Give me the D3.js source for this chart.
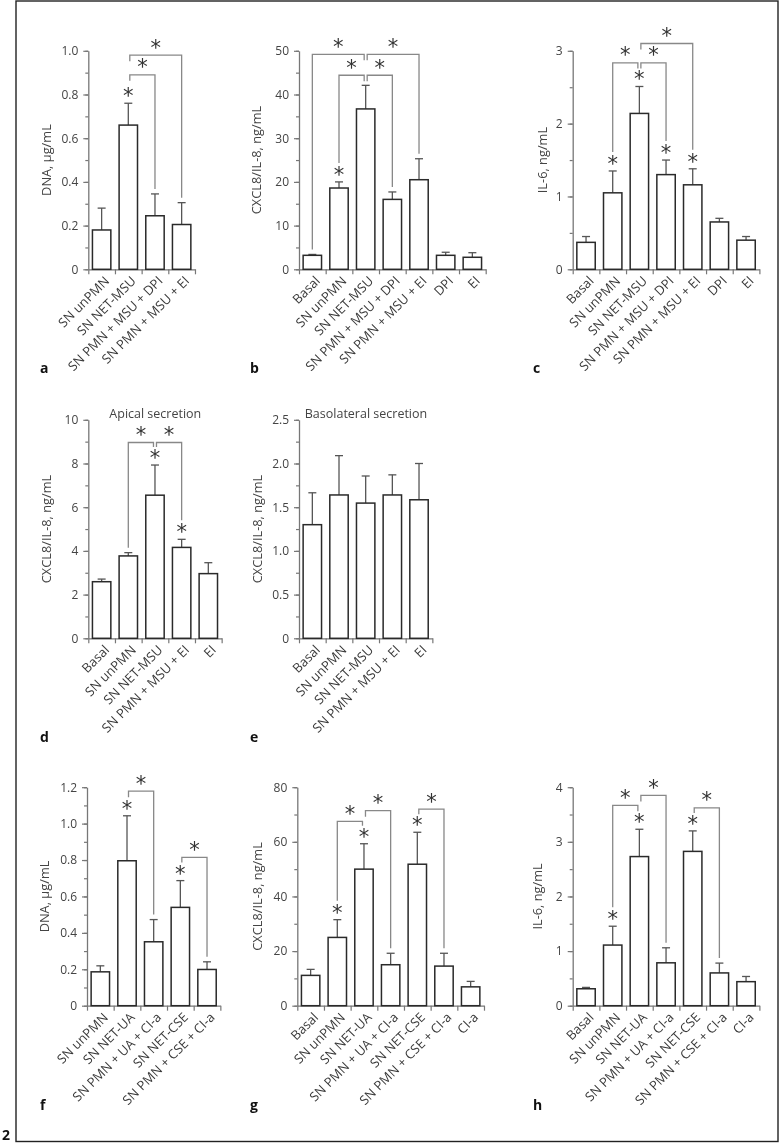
<!DOCTYPE html>
<html>
<head>
<meta charset="utf-8">
<script src="https://cdn.jsdelivr.net/npm/d3@7"></script>
<style>
  body { margin: 0; background: #fff; }
  svg { display: block; will-change: transform; }
  text { font-family: "Open Sans", sans-serif; fill: #444; }
</style>
</head>
<body>
<svg id="fig" width="780" height="1143"></svg>
<script>
// ---- data ----
// a: DNA release
const catsA = ["SN unPMN", "SN NET-MSU", "SN PMN + MSU + DPI", "SN PMN + MSU + EI"];
const valsA = [0.18, 0.66, 0.245, 0.205];
const sdA = [0.10, 0.10, 0.10, 0.10];
const starsA = [1];
const bracketsA = [[1, 2, 0.89], [1, 3, 0.98]];

// b: CXCL8/IL-8
const catsB = ["Basal", "SN unPMN", "SN NET-MSU", "SN PMN + MSU + DPI", "SN PMN + MSU + EI", "DPI", "EI"];
const valsB = [3.2, 18.6, 36.7, 16.0, 20.5, 3.2, 2.75];
const sdB = [0.2, 1.4, 5.4, 1.7, 4.8, 0.7, 1.05];
const starsB = [1];
const bracketsB = [[0, 2, 49.2], [1, 2, 44.4], [2, 3, 44.4], [2, 4, 49.2]];

// c: IL-6
const catsC = catsB;
const valsC = [0.37, 1.05, 2.14, 1.30, 1.16, 0.65, 0.40];
const sdC = [0.08, 0.30, 0.37, 0.20, 0.22, 0.05, 0.05];
const starsC = [1, 2, 3, 4];
const bracketsC = [[1, 2, 2.835], [2, 3, 2.835], [2, 4, 3.10]];

// d: apical CXCL8/IL-8
const catsD = ["Basal", "SN unPMN", "SN NET-MSU", "SN PMN + MSU + EI", "EI"];
const valsD = [2.59, 3.77, 6.55, 4.16, 2.96];
const sdD = [0.12, 0.15, 1.38, 0.37, 0.50];
const starsD = [2, 3];
const bracketsD = [[1, 2, 8.96], [2, 3, 8.96]];

// e: basolateral CXCL8/IL-8
const catsE = catsD;
const valsE = [1.30, 1.64, 1.547, 1.64, 1.585];
const sdE = [0.365, 0.45, 0.31, 0.23, 0.415];

// f: DNA, UA / CSE
const catsF = ["SN unPMN", "SN NET-UA", "SN PMN + UA + CI-a", "SN NET-CSE", "SN PMN + CSE + CI-a"];
const valsF = [0.186, 0.796, 0.351, 0.54, 0.199];
const sdF = [0.033, 0.247, 0.122, 0.147, 0.042];
const starsF = [1, 3];
const bracketsF = [[1, 2, 1.178], [3, 4, 0.815]];

// g: CXCL8/IL-8, UA / CSE
const catsG = ["Basal", "SN unPMN", "SN NET-UA", "SN PMN + UA + CI-a", "SN NET-CSE", "SN PMN + CSE + CI-a", "CI-a"];
const valsG = [11.1, 25.0, 50.0, 15.0, 51.8, 14.5, 6.9];
const sdG = [2.2, 6.5, 9.3, 4.2, 11.7, 4.7, 2.0];
const starsG = [1, 2, 4];
const bracketsG = [[1, 2, 67.5], [2, 3, 71.4], [4, 5, 72.0]];

// h: IL-6, UA / CSE
const catsH = catsG;
const valsH = [0.31, 1.11, 2.73, 0.785, 2.825, 0.60, 0.44];
const sdH = [0.025, 0.345, 0.50, 0.275, 0.375, 0.18, 0.095];
const starsH = [1, 2, 4];
const bracketsH = [[1, 2, 3.666], [2, 3, 3.85], [4, 5, 3.62]];

// y axis ranges: [max, major step, minor step]
const axisA = [1.0, 0.2, 0.1];
const axisB = [50, 10, 5];
const axisC = [3, 1, 0.5];
const axisD = [10, 2, 1];
const axisE = [2.5, 0.5, 0.25];
const axisF = [1.2, 0.2, 0.1];
const axisG = [80, 20, 10];
const axisH = [4, 1, 0.5];

const fmt1 = d => d === 0 ? "0" : d3.format(".1f")(d);
const fmt0 = d3.format("d");

// ---- layout ----
const panels = [
  { cats: catsA, vals: valsA, sd: sdA, stars: starsA, brackets: bracketsA, axis: axisA, fmt: fmt1,
    ylab: "DNA, µg/mL", letter: "a", ox: 88.3, oy: 269.3, labX: -41.6, letX: 40 },
  { cats: catsB, vals: valsB, sd: sdB, stars: starsB, brackets: bracketsB, axis: axisB, fmt: fmt0,
    ylab: "CXCL8/IL-8, ng/mL", letter: "b", ox: 299, oy: 269.3, labX: -42, letX: 250 },
  { cats: catsC, vals: valsC, sd: sdC, stars: starsC, brackets: bracketsC, axis: axisC, fmt: fmt0,
    ylab: "IL-6, ng/mL", letter: "c", ox: 572.7, oy: 269.3, labX: -30, letX: 533 },
  { cats: catsD, vals: valsD, sd: sdD, stars: starsD, brackets: bracketsD, axis: axisD, fmt: fmt0,
    ylab: "CXCL8/IL-8, ng/mL", letter: "d", ox: 88.3, oy: 638.3, labX: -41.6, letX: 40,
    title: "Apical secretion", titleX: 67 },
  { cats: catsE, vals: valsE, sd: sdE, stars: [], brackets: [], axis: axisE, fmt: fmt1,
    ylab: "CXCL8/IL-8, ng/mL", letter: "e", ox: 299, oy: 638.3, labX: -41.5, letX: 250,
    title: "Basolateral secretion", titleX: 67 },
  { cats: catsF, vals: valsF, sd: sdF, stars: starsF, brackets: bracketsF, axis: axisF, fmt: fmt1,
    ylab: "DNA, µg/mL", letter: "f", ox: 87, oy: 1005.7, labX: -42, letX: 40 },
  { cats: catsG, vals: valsG, sd: sdG, stars: starsG, brackets: bracketsG, axis: axisG, fmt: fmt0,
    ylab: "CXCL8/IL-8, ng/mL", letter: "g", ox: 297.3, oy: 1005.7, labX: -40, letX: 250 },
  { cats: catsH, vals: valsH, sd: sdH, stars: starsH, brackets: bracketsH, axis: axisH, fmt: fmt0,
    ylab: "IL-6, ng/mL", letter: "h", ox: 572.7, oy: 1005.7, labX: -35, letX: 533 }
];

const plotH = 218.5;
const step = 26.67;
const svg = d3.select("#fig");

// frame
svg.append("rect")
  .attr("x", 16).attr("y", 1).attr("width", 762).attr("height", 1140.5)
  .attr("fill", "none").attr("stroke", "#222").attr("stroke-width", 1.4);
svg.append("text").attr("x", 2).attr("y", 1140)
  .style("font-weight", "bold").style("font-size", "14px").style("fill", "#111").text("2");

function star(g, x, yc) {
  g.append("text").attr("class", "star")
    .attr("x", x).attr("y", yc + 9)
    .attr("text-anchor", "middle")
    .style("font-family", "DejaVu Sans").style("font-size", "21px").style("fill", "#333")
    .text("*");
}

panels.forEach(p => {
  const n = p.cats.length;
  const W = n * step;
  const g = svg.append("g").attr("transform", `translate(${p.ox},${p.oy - plotH})`);

  const x = d3.scaleBand().domain(p.cats).range([0, W]).paddingInner(0.31).paddingOuter(0.155);
  const xe = d3.scaleLinear().domain([0, n]).range([0, W]);
  const y = d3.scaleLinear().domain([0, p.axis[0]]).range([plotH, 0]);

  const major = d3.range(0, p.axis[0] + p.axis[1] / 2, p.axis[1]);
  const minor = d3.range(0, p.axis[0] + p.axis[2] / 2, p.axis[2]);

  // minor ticks
  g.append("g").call(d3.axisLeft(y).tickValues(minor).tickSize(3).tickSizeOuter(0).tickFormat(""))
    .call(a => a.select(".domain").remove())
    .selectAll("line").attr("stroke", "#777").attr("stroke-width", 1.2);
  // major ticks + labels
  const ya = g.append("g").call(d3.axisLeft(y).tickValues(major).tickSize(5).tickSizeOuter(0).tickPadding(5).tickFormat(p.fmt));
  ya.select(".domain").attr("stroke", "#777").attr("stroke-width", 1.3);
  ya.selectAll("line").attr("stroke", "#777").attr("stroke-width", 1.2);
  ya.selectAll("text").style("font-size", "12px").style("fill", "#444").style("font-family", "Open Sans");

  // x axis: separators at band edges
  const xa = g.append("g").attr("transform", `translate(0,${plotH})`)
    .call(d3.axisBottom(xe).tickValues(d3.range(n + 1)).tickSize(5).tickSizeOuter(0).tickFormat(""));
  xa.select(".domain").attr("stroke", "#777").attr("stroke-width", 1.3);
  xa.selectAll("line").attr("stroke", "#777").attr("stroke-width", 1.2);

  // category labels
  const xl = g.append("g").attr("transform", `translate(0,${plotH})`)
    .call(d3.axisBottom(x).tickSize(0).tickSizeOuter(0));
  xl.select(".domain").remove();
  xl.selectAll("text")
    .attr("x", 0).attr("y", 0).attr("dy", 0)
    .attr("text-anchor", "end")
    .attr("transform", "translate(8.5,12.5) rotate(-45)")
    .style("font-size", "13px").style("fill", "#3a3a3a").style("font-family", "Open Sans");

  // error bars
  const cx = i => x(p.cats[i]) + x.bandwidth() / 2;
  const errTop = i => y(p.vals[i] + p.sd[i]);
  const eb = g.append("g").attr("stroke", "#555").attr("stroke-width", 1.3);
  eb.selectAll("line.v").data(p.vals).join("line").attr("class", "v")
    .attr("x1", (d, i) => cx(i)).attr("x2", (d, i) => cx(i))
    .attr("y1", d => y(d)).attr("y2", (d, i) => errTop(i));
  eb.selectAll("line.c").data(p.vals).join("line").attr("class", "c")
    .attr("x1", (d, i) => cx(i) - 4).attr("x2", (d, i) => cx(i) + 4)
    .attr("y1", (d, i) => errTop(i)).attr("y2", (d, i) => errTop(i));

  // bars
  g.append("g").selectAll("rect").data(p.vals).join("rect")
    .attr("x", (d, i) => x(p.cats[i]))
    .attr("y", d => y(d))
    .attr("width", x.bandwidth())
    .attr("height", d => plotH - y(d))
    .attr("fill", "#fff").attr("stroke", "#2a2a2a").attr("stroke-width", 1.5);

  // stars over bars
  const topOf = i => p.stars.includes(i) ? errTop(i) - 9 - 5 : errTop(i);
  p.stars.forEach(i => star(g, cx(i), errTop(i) - 9));

  // significance brackets
  p.brackets.forEach(([i, j, lev]) => {
    const hub = (p.vals[i] + p.sd[i]) >= (p.vals[j] + p.sd[j]) ? i : j;
    const other = hub === i ? j : i;
    const ly = y(lev);
    const hx = cx(hub) + (other > hub ? 1.5 : -1.5);
    const ox = cx(other);
    const hubLeg = Math.min(6, topOf(hub) - 4 - ly);
    const path = d3.path();
    path.moveTo(hx, ly + hubLeg);
    path.lineTo(hx, ly);
    path.lineTo(ox, ly);
    path.lineTo(ox, topOf(other) - 5);
    g.append("path").attr("d", path.toString())
      .attr("fill", "none").attr("stroke", "#888").attr("stroke-width", 1.3);
    star(g, (hx + ox) / 2, ly - 9.5);
  });

  // y label
  g.append("text")
    .attr("transform", `translate(${p.labX},${plotH / 2}) rotate(-90)`)
    .attr("text-anchor", "middle").attr("dy", "0.35em")
    .style("font-size", "12.8px").text(p.ylab);

  if (p.title) {
    g.append("text").attr("x", p.titleX).attr("y", -1.5)
      .attr("text-anchor", "middle").style("font-size", "12.5px").text(p.title);
  }

  // panel letter
  svg.append("text").attr("x", p.letX).attr("y", p.oy + 104)
    .style("font-weight", "bold").style("font-size", "14px").style("fill", "#111")
    .text(p.letter);
});
</script>
</body>
</html>
